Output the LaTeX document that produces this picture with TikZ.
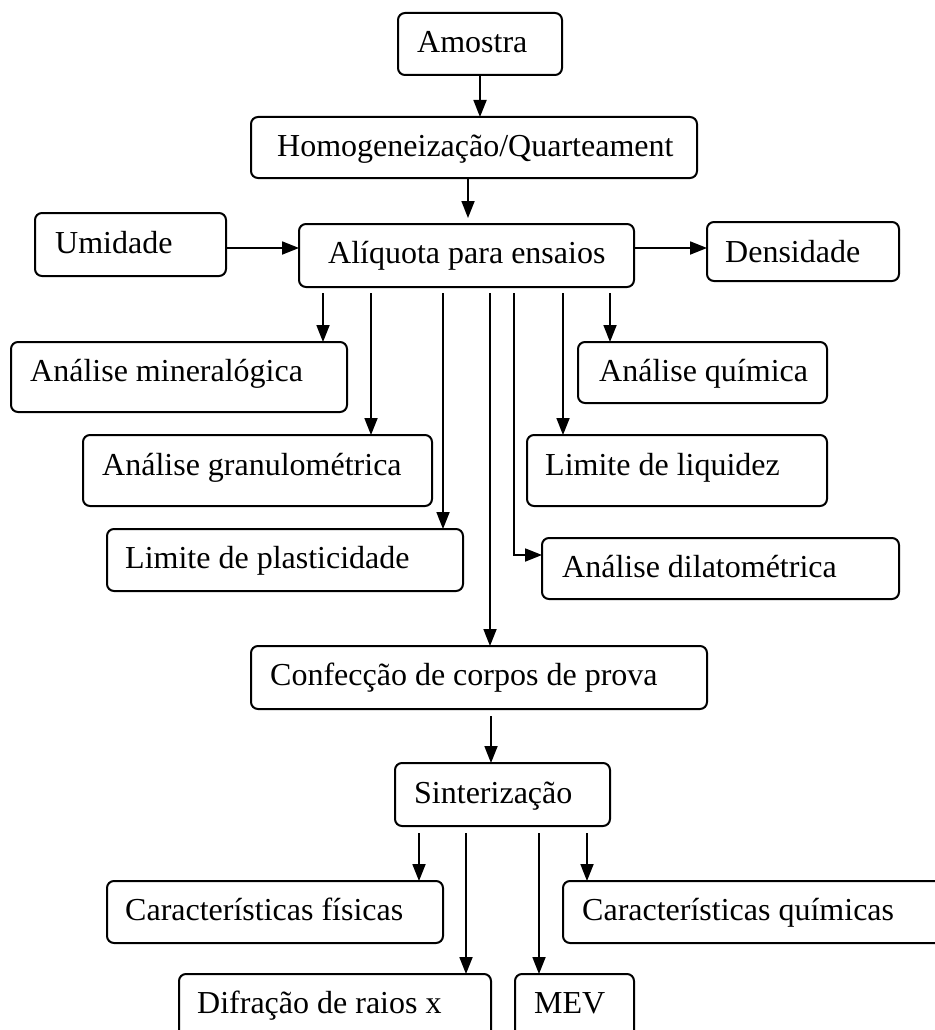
\documentclass[tikz,border=0pt]{standalone}
\usepackage{fontspec}
\setmainfont{Liberation Serif}
\usetikzlibrary{arrows.meta,calc}
\newcommand\bx[8]{%
  \node[box, minimum width={(#4)-(#2)}, minimum height={(#5)-(#3)}] (#1) at ({((#2)+(#4))/2},{((#3)+(#5))/2}) {};
  \node[lbl] (#1-t) at (#6,#7) {#8};}
\begin{document}
\begin{tikzpicture}[x=1pt,y=-1pt,
  box/.style={draw, line width=2pt, rounded corners=7pt, inner sep=0pt, outer sep=0pt},
  lbl/.style={anchor=base west, inner sep=0pt, font=\fontsize{32}{38}\selectfont},
  arr/.style={-{Triangle[length=17pt,width=13pt]}, line width=1.8pt}]
\useasboundingbox (0,0) rectangle (934,1030);
\fill[white] (0,0) rectangle (934,1030);

\bx{amostra}{398}{13}{562}{75}{417}{53}{Amostra}
\bx{homog}{251}{117}{697}{178}{277}{157}{Homogeneização/Quarteament}
\bx{umid}{35}{213}{226}{276}{55}{253}{Umidade}
\bx{aliq}{299}{224}{634}{287}{328}{263}{Alíquota para ensaios}
\bx{dens}{707}{222}{899}{281}{725}{262}{Densidade}
\bx{miner}{11}{342}{347}{412}{30}{381}{Análise mineralógica}
\bx{quim}{578}{342}{827}{403}{599}{381}{Análise química}
\bx{granulo}{83}{435}{432}{506}{102}{475}{Análise granulométrica}
\bx{liq}{527}{435}{827}{506}{545}{475}{Limite de liquidez}
\bx{plast}{107}{529}{463}{591}{125}{568}{Limite de plasticidade}
\bx{dil}{542}{538}{899}{599}{562}{577}{Análise dilatométrica}
\bx{conf}{251}{646}{707}{709}{270}{685}{Confecção de corpos de prova}
\bx{sint}{395}{763}{610}{826}{414}{803}{Sinterização}
\bx{fis}{107}{881}{443}{943}{125}{920}{Características físicas}
\bx{quimc}{563}{881}{950}{943}{582}{920}{Características químicas}
\bx{difr}{179}{974}{491}{1045}{197}{1013}{Difração de raios x}
\bx{mev}{515}{974}{634}{1045}{534}{1013}{MEV}

% top chain
\draw[arr] (amostra.south) -- (amostra.south |- homog.north);
\draw[arr, shorten >=6pt] ([xshift=1.5pt]aliq.north |- homog.south) -- ([xshift=1.5pt]aliq.north);
\draw[arr] ([yshift=-3.5pt]umid.east) -- ([yshift=-3.5pt]umid.east -| aliq.west);
\draw[arr] ([yshift=7.5pt]aliq.east) -- ([yshift=7.5pt]aliq.east -| dens.west);

% from Aliquota
\draw[arr, shorten <=6pt] ([xshift=-143.5pt]aliq.south) -- ([xshift=-143.5pt]aliq.south |- miner.north);
\draw[arr, shorten <=6pt] ([xshift=-95.5pt]aliq.south) -- ([xshift=-95.5pt]aliq.south |- granulo.north);
\draw[arr, shorten <=6pt] ([xshift=-23.5pt]aliq.south) -- ([xshift=-23.5pt]aliq.south |- plast.north);
\draw[arr, shorten <=6pt] ([xshift=23.5pt]aliq.south) -- ([xshift=23.5pt]aliq.south |- conf.north);
\draw[arr, shorten <=6pt] ([xshift=47.5pt]aliq.south) |- ([yshift=13.5pt]dil.west);
\draw[arr, shorten <=6pt] ([xshift=96.5pt]aliq.south) -- ([xshift=96.5pt]aliq.south |- liq.north);
\draw[arr, shorten <=6pt] ([xshift=143.5pt]aliq.south) -- ([xshift=143.5pt]aliq.south |- quim.north);

% lower chain
\draw[arr, shorten <=7pt] ([xshift=-11.5pt]sint.north |- conf.south) -- ([xshift=-11.5pt]sint.north);
\draw[arr, shorten <=7pt] ([xshift=-83.5pt]sint.south) -- ([xshift=-83.5pt]sint.south |- fis.north);
\draw[arr, shorten <=7pt] ([xshift=-36.5pt]sint.south) -- ([xshift=-36.5pt]sint.south |- difr.north);
\draw[arr, shorten <=7pt] ([xshift=36.5pt]sint.south) -- ([xshift=36.5pt]sint.south |- mev.north);
\draw[arr, shorten <=7pt] ([xshift=84.5pt]sint.south) -- ([xshift=84.5pt]sint.south |- quimc.north);
\end{tikzpicture}
\end{document}
